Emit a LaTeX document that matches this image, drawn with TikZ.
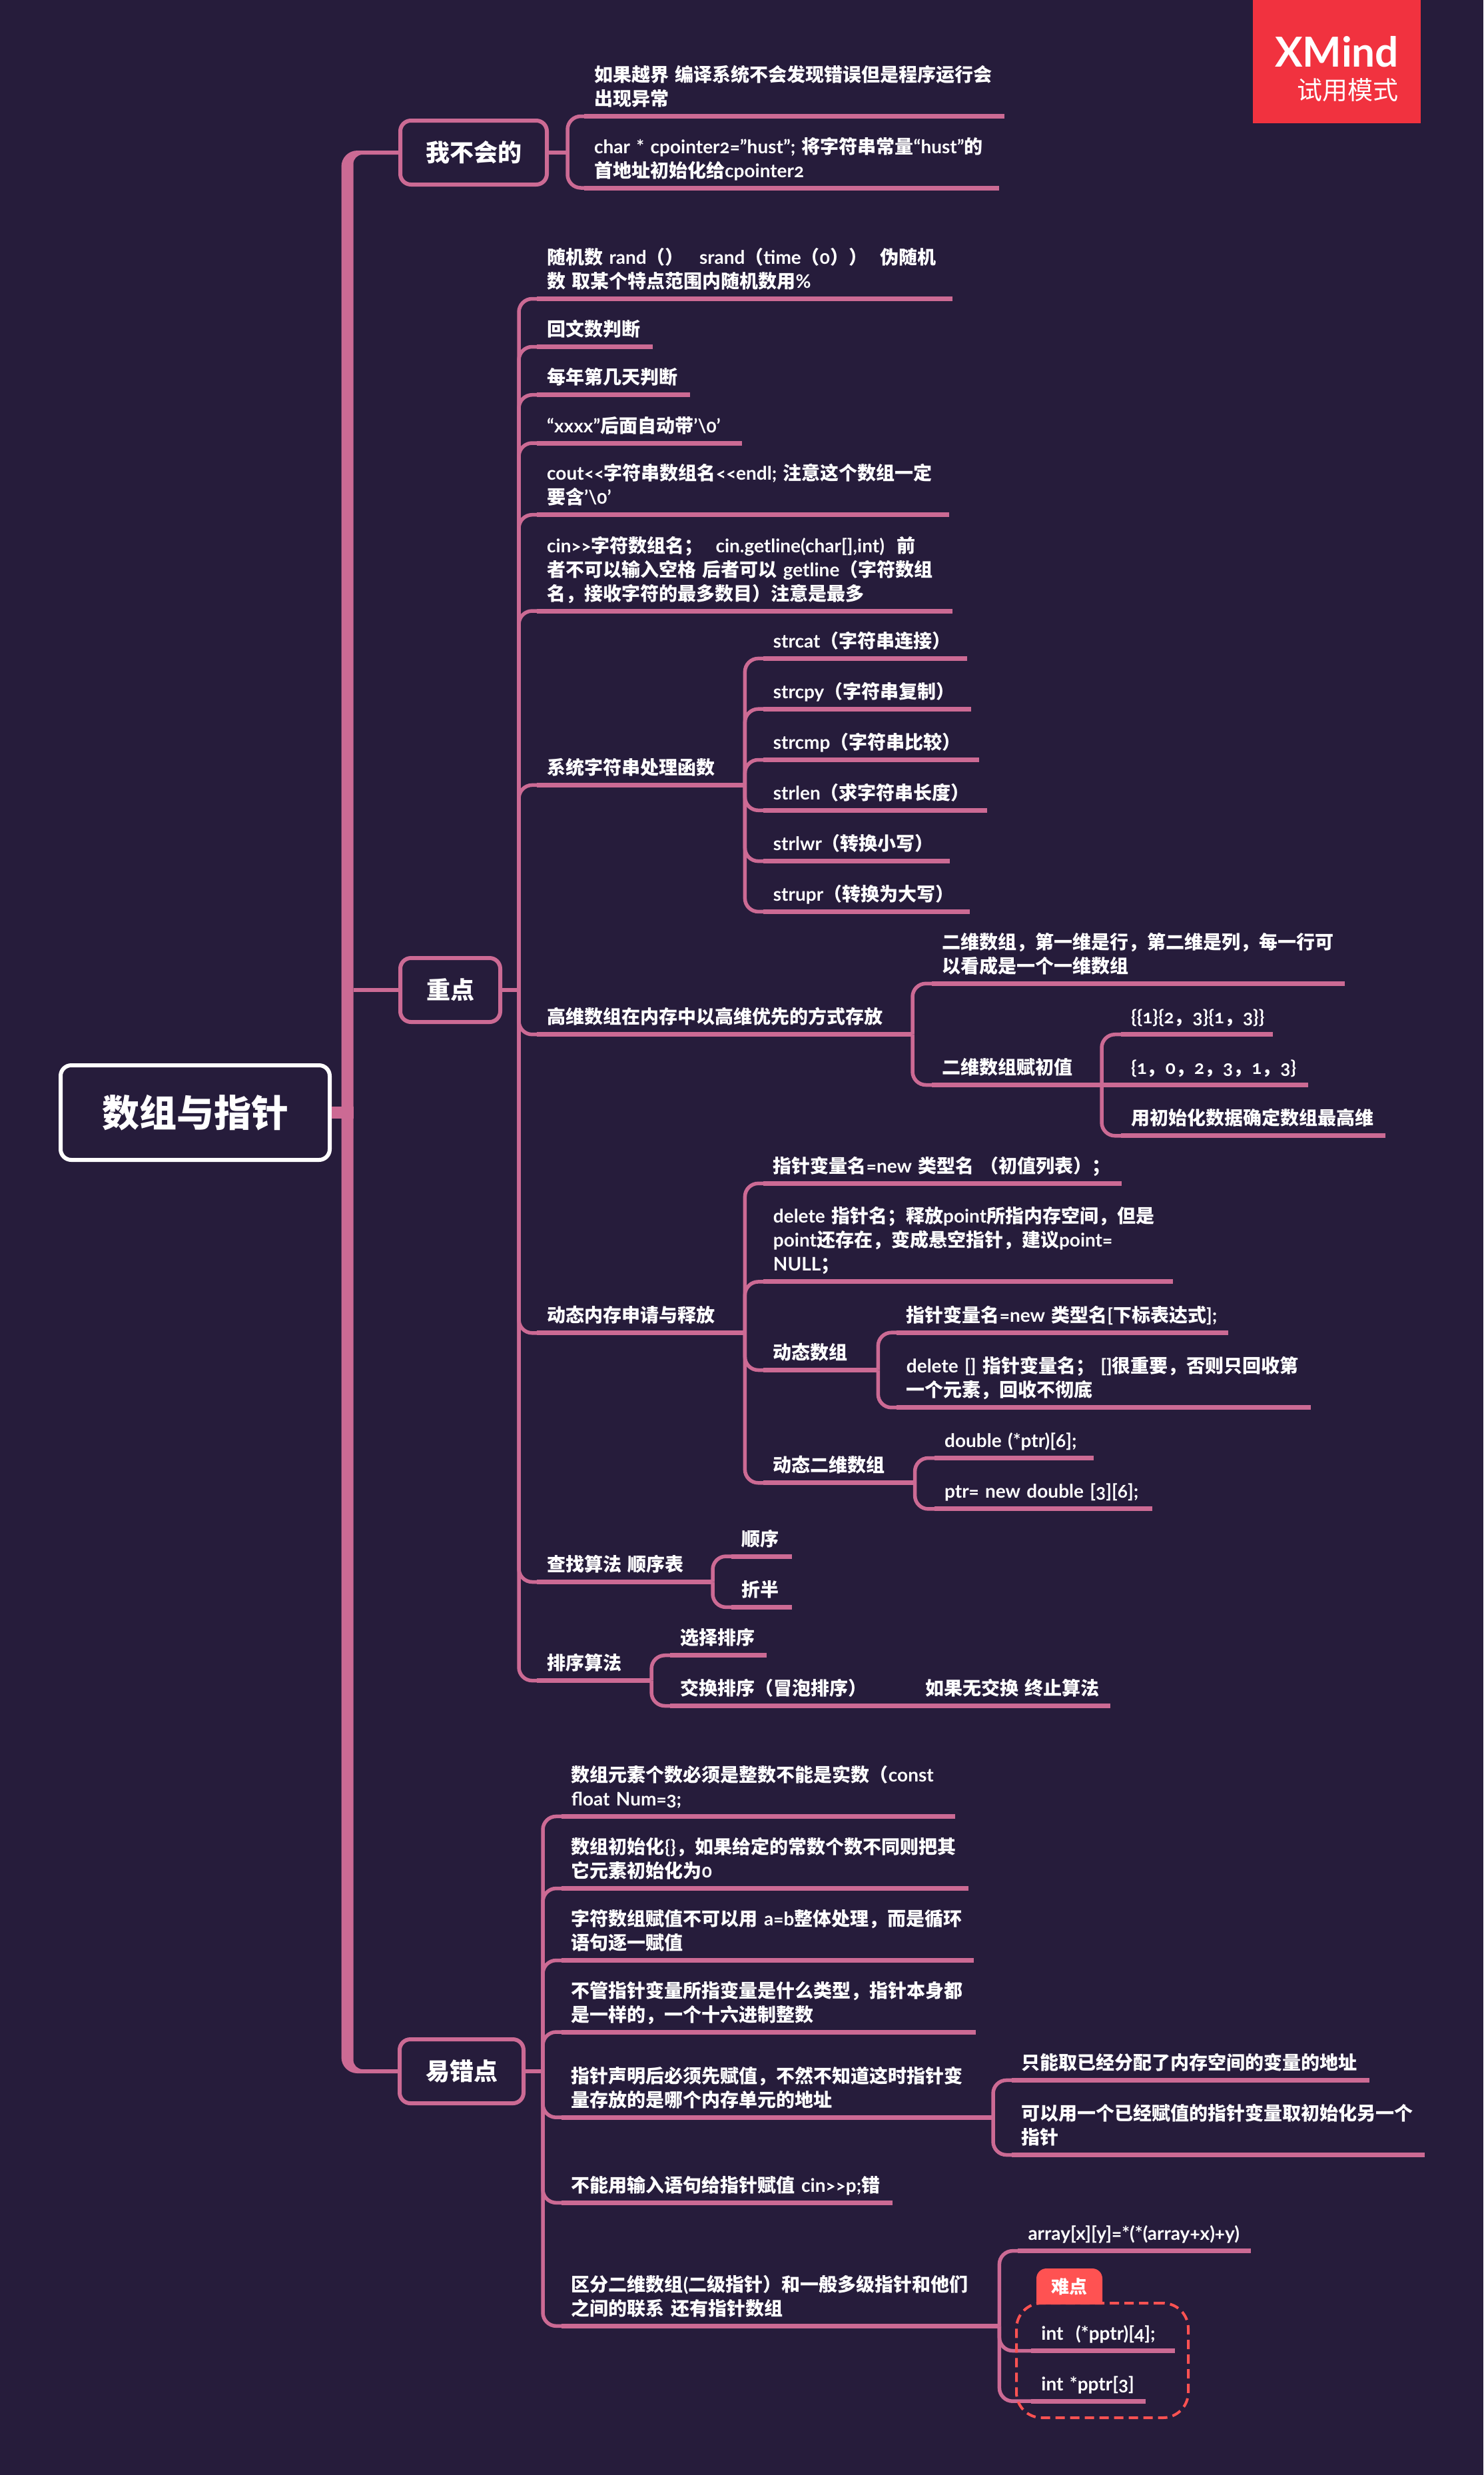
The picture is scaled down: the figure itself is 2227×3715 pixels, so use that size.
\documentclass[tikz,border=0pt]{standalone}
\usepackage{fontspec}
\setmainfont{Lato}[Numbers=OldStyle]
\newfontfamily\zhfont{Noto Sans CJK SC}
\newfontfamily\zhblack{Noto Sans CJK SC Black}
\usetikzlibrary{calc}
%Chinese text goes to the CJK family by itself
\XeTeXinterchartokenstate=1
\newXeTeXintercharclass\zhclass
\newcount\zhcode
\def\zhrange#1#2{\zhcode=#1\relax\loop\XeTeXcharclass\zhcode=\zhclass\ifnum\zhcode<#2\advance\zhcode by 1\repeat}
\zhrange{"3000}{"30FF}\zhrange{"4E00}{"9FFF}\zhrange{"FF00}{"FFEF}
\XeTeXinterchartoks 4095 \zhclass={\zhfont}
\XeTeXinterchartoks 0 \zhclass={\zhfont}
\XeTeXinterchartoks \zhclass 0={\rmfamily}
\XeTeXinterchartoks \zhclass 4095={\rmfamily}
\newcommand\rootface{\XeTeXinterchartokenstate=0\relax\zhblack\fontsize{56}{60}\selectfont}
\definecolor{bgdark}{RGB}{38,28,59}
\definecolor{linkpink}{RGB}{204,106,148}
\definecolor{badgered}{RGB}{241,50,63}
\definecolor{notered}{RGB}{255,82,82}
\tikzset{
  item/.style={anchor=south west,inner xsep=0pt,inner ysep=5pt,align=left,text=white,
    font=\bfseries\fontsize{28}{36}\selectfont,execute at begin node=\strut,execute at end node=\strut},
  under/.style={linkpink,line width=7pt},
  link/.style={linkpink,line width=5.5pt,rounded corners=20pt},
  topicbox/.style={draw=linkpink,fill=bgdark,line width=6pt,rounded corners=16pt,text=white,
    font=\bfseries\fontsize{36}{42}\selectfont},
}
\begin{document}
\begin{tikzpicture}[x=1pt,y=-1pt]
\useasboundingbox (0,0) rectangle (2227,3715);
\fill[bgdark] (0,0) rectangle (2227,3715);

%Trial badge
\fill[badgered] (1881,0) rectangle (2133,185);
\node[anchor=east,inner sep=0pt,text=white,font=\bfseries\fontsize{62}{62}\selectfont] (badgea) at (2100,78) {XMind};
\node[anchor=east,inner sep=0pt,text=white,font=\fontsize{38}{40}\selectfont] (badgeb) at (2100,135) {试用模式};

%Root and the three topics
\node[draw=white,fill=bgdark,line width=6pt,rounded corners=16pt,minimum width=404pt,minimum height=142pt,text=white] (root) at (293,1670) {\rootface 数组与指针};
\foreach \n/\x/\y/\w/\t in {wbh/711/229/220/我不会的,zd/676/1486/150/重点,yc/693/3109/186/易错点}
  \node[topicbox,minimum width=\w pt,minimum height=96pt] (\n) at (\x,\y) {\t};

%Main trunk - wide in the middle, thin at both ends
\coordinate (tl) at (512.5,0);
\coordinate (tr) at (530.5,0);
\fill[linkpink] ($(wbh.west)+(0,-3)$) [rounded corners=24pt] -- ($(tl |- wbh.west)+(0,-3)$) -- ($(tl |- yc.west)+(0,3)$) [sharp corners] -- ($(yc.west)+(0,3)$)
  -- ($(yc.west)+(0,-3)$) [rounded corners=14pt] -- ($(tr |- yc.west)+(0,-3)$) -- ($(tr |- wbh.west)+(0,3)$) [sharp corners] -- ($(wbh.west)+(0,3)$) -- cycle;
\draw[linkpink,line width=18pt] (root.east) -- ($(tr |- root.east)+(0,0)$);
\draw[linkpink,line width=6pt] (tr |- zd.west) -- (zd.west);

%Nodes for the texts: name/left/underline/right/text
\foreach \n/\x/\y/\e/\t in {
  yj/892/174.5/1508/{如果越界 编译系统不会发现错误但是程序运行会\\出现异常},
  cp/892/282/1500/{char * cpointer2="hust"; 将字符串常量“hust”的\\首地址初始化给cpointer2},
  rnd/821/448.5/1430/{随机数 rand（）\hspace*{14pt} srand（time（0））\hspace*{10pt} 伪随机\\数 取某个特点范围内随机数用\%},
  hw/821/520.5/980/{回文数判断},
  dy/821/592.7/1035.5/{每年第几天判断},
  xx/821/665/1113.6/{“xxxx”后面自动带'\textbackslash 0'},
  ct/821/772.7/1424.7/{cout<{}<字符串数组名<{}<endl; 注意这个数组一定\\要含'\textbackslash 0'},
  cn/821/917/1430/{cin>{}>字符数组名；\ \ cin.getline(char[],int) \ 前\\者不可以输入空格 后者可以 getline（字符数组\\名，接收字符的最多数目）注意是最多},
  sy/821/1178.4/1118/{系统字符串处理函数},
  gw/821/1552.7/1369.6/{高维数组在内存中以高维优先的方式存放},
  dt/821/2000.8/1118/{动态内存申请与释放},
  cz/821/2374.5/1069.6/{查找算法 顺序表},
  px/821/2522.6/977.7/{排序算法},
  scat/1160.7/988.4/1451.8/{strcat（字符串连接）},
  scpy/1160.7/1064.2/1458/{strcpy（字符串复制）},
  scmp/1160.7/1140.5/1469.6/{strcmp（字符串比较）},
  slen/1160.7/1216.3/1482/{strlen（求字符串长度）},
  slwr/1160.7/1292.6/1426/{strlwr（转换小写）},
  supr/1160.7/1368.4/1456/{strupr（转换为大写）},
  ew/1414/1476.3/2018.8/{二维数组，第一维是行，第二维是列，每一行可\\以看成是一个一维数组},
  ef/1414/1628.5/1653.6/{二维数组赋初值},
  ea/1698/1552.7/1910.7/{\{\{1\}\{2，3\}\{1，3\}\}},
  eb/1698/1628.5/1963.4/{\{1，0，2，3，1，3\}},
  ec/1698/1704.8/2079.5/{用初始化数据确定数组最高维},
  dn/1160.7/1776.3/1684/{指针变量名=new 类型名 （初值列表）；},
  dl/1160.7/1923.9/1760.7/{delete 指针名；释放point所指内存空间，但是\\point还存在，变成悬空指针，建议point=\\NULL；},
  dg/1160.7/2056.5/1317.9/{动态数组},
  de/1160.7/2225.8/1373.2/{动态二维数组},
  dga/1360.7/2000.2/1843.8/{指针变量名=new 类型名[下标表达式];},
  dgb/1360.7/2112.7/1967.9/{delete [] 指针变量名；\ []很重要，否则只回收第\\一个元素，回收不彻底},
  dea/1417.9/2188.5/1642/{double (*ptr)[6];},
  deb/1417.9/2264.9/1730/{ptr= new double [3][6];},
  cza/1113.4/2336/1188.4/{顺序},
  czb/1113.4/2412.4/1188.4/{折半},
  pxa/1021.4/2484.7/1150.9/{选择排序},
  pxb/1021.4/2560.5/1319.6/{交换排序（冒泡排序）},
  zz/1389.3/2560.5/1667/{如果无交换 终止算法},
  ya/857.7/2726.4/1433.2/{数组元素个数必须是整数不能是实数（const\\float Num=3;},
  yb/857.7/2834.5/1453.6/{数组初始化\{\}，如果给定的常数个数不同则把其\\它元素初始化为0},
  yd/857.7/2942.5/1461.4/{字符数组赋值不可以用 a=b整体处理，而是循环\\语句逐一赋值},
  ye/857.7/3050/1464.4/{不管指针变量所指变量是什么类型，指针本身都\\是一样的，一个十六进制整数},
  yf/857.7/3178.2/1490.6/{指针声明后必须先赋值，不然不知道这时指针变\\量存放的是哪个内存单元的地址},
  yg/857.7/3306.3/1340/{不能用输入语句给指针赋值 cin>{}>p;错},
  yh/857.7/3491.3/1500/{区分二维数组(二级指针）和一般多级指针和他们\\之间的联系 还有指针数组},
  yfa/1533.5/3122.4/2055.4/{只能取已经分配了内存空间的变量的地址},
  yfb/1533.5/3234.5/2139/{可以用一个已经赋值的指针变量取初始化另一个\\指针},
  yha/1543.3/3378.6/1878/{array[x][y]=*(*(array+x)+y)},
  yhb/1563.2/3528.5/1763.8/{int\ \ (*pptr)[4];},
  yhc/1563.2/3604.2/1720/{int *pptr[3]}} {
  \pgfmathsetmacro{\tw}{\e-\x}
  \node[item,text width=\tw pt] (\n) at (\x,\y) {\t};
  \draw[under] ($(\n.south west)+(-15,0)$) -- (\n.south east);
}

%Connectors out of the topics
\foreach \p/\d/\l in {wbh/28/{yj,cp},zd/25/{rnd,hw,dy,xx,ct,cn,sy,gw,dt,cz,px},yc/26/{ya,yb,yd,ye,yf,yg,yh}} {
  \coordinate (\p a) at ($(\p.east)+(\d,0)$);
  \draw[linkpink,line width=6pt] (\p.east) -- (\p a);
  \foreach \c in \l \draw[link] (\p a) |- (\c.south west);
}
%Connectors between the items
\foreach \p/\l in {sy/{scat,scpy,scmp,slen,slwr,supr},gw/{ew,ef},ef/{ea,ec},dt/{dn,dl,dg,de},dg/{dga,dgb},de/{dea,deb},cz/{cza,czb},px/{pxa,pxb},yf/{yfa,yfb},yh/{yha,yhb,yhc}}
  \foreach \c in \l \draw[link] (\p.south east) |- (\c.south west);
%These two run straight on
\foreach \p/\c in {ef/eb,pxb/zz} \draw[under] (\p.south east) -- (\c.south west);

%Note frame with its tab
\coordinate (tagsw) at (1556,3459);
\coordinate (tagne) at (1655,3405);
\fill[notered,rounded corners=15pt] (tagsw) |- (tagne) -- (tagne |- tagsw);
\node[inner sep=0pt,text=white,font=\bfseries\fontsize{27}{30}\selectfont] (tag) at ($(tagsw)!.5!(tagne)$) {难点};
\node[draw=notered,line width=4pt,dash pattern=on 14pt off 8pt,rounded corners=38pt,minimum width=258pt,minimum height=172pt,outer sep=0pt] (frame) at (1655,3543) {};

\end{tikzpicture}
\end{document}
